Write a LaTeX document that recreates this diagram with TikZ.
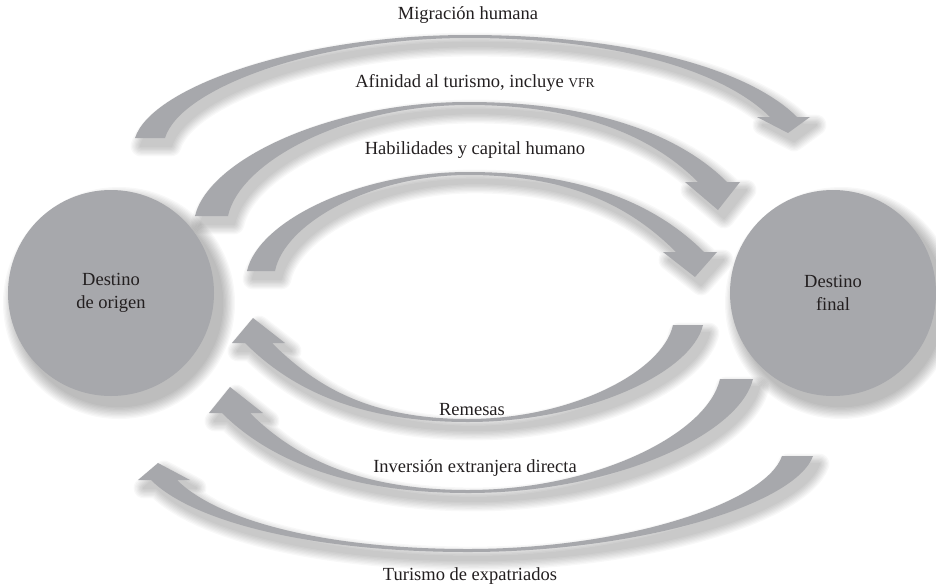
\documentclass[tikz,border=0pt]{standalone}
\usepackage{fontspec}
\setmainfont{Liberation Serif}
\definecolor{arrowgray}{HTML}{A7A8AC}
\definecolor{inkcol}{HTML}{231F20}
\tikzset{
  arrowfill/.style={fill=arrowgray},
  shadowlayer/.style={fill=black, draw=black, line join=round},
  place/.style={circle, fill=arrowgray, minimum size=206pt, inner sep=0pt, align=center, text=inkcol,
    font=\fontsize{18.5}{23}\selectfont},
  lbl/.style={text=inkcol, font=\fontsize{18.5}{22}\selectfont, inner sep=0pt}
}
% soft shadow: #1 shift x, #2 shift y, #3 number of layers, #4 path
\newcommand\softshadow[4]{%
 \foreach \k in {1,...,#3}{%
  \begin{scope}[transparency group, opacity=0.028, shift={(#1,#2)}]
   \path[shadowlayer, line width={\k*2.6pt}] #4;
  \end{scope}}}
\newcommand\shadowfill[1]{\softshadow{6}{8}{8}{#1}\fill[arrowfill] #1;}
% #1 tail outer x, #2 tail inner x, #3 tail y, #4 top y, #5 head base y,
% #6 barb left x, #7 barb right x, #8 tip x, #9 tip y
\newcommand\toparrow[9]{%
 \pgfmathsetmacro\aSL{#6+13}\pgfmathsetmacro\aSR{#7-13}%
 \pgfmathsetmacro\oax{#1+0.05*(468-#1)}\pgfmathsetmacro\oay{#3-0.5*(#3-#4)}%
 \pgfmathsetmacro\obx{#1+0.5*(468-#1)}%
 \pgfmathsetmacro\ocx{468+0.5*(\aSR-468)}%
 \pgfmathsetmacro\odx{\aSR-0.57*(#5-#4)}\pgfmathsetmacro\ody{#5-0.57*(#5-#4)}%
 \pgfmathsetmacro\iax{#2+0.05*(468-#2)}\pgfmathsetmacro\iay{#3-0.5*(#3-#4-3)}%
 \pgfmathsetmacro\ibx{#2+0.5*(468-#2)}%
 \pgfmathsetmacro\icx{468+0.5*(\aSL-468)}%
 \pgfmathsetmacro\idx{\aSL-0.55*(#5-#4)}\pgfmathsetmacro\idy{#5-0.55*(#5-#4)}%
 \pgfmathsetmacro\itop{#4+3}%
 \shadowfill{(#1,#3) .. controls (\oax,\oay) and (\obx,#4) .. (468,#4)
   .. controls (\ocx,#4) and (\odx,\ody) .. (\aSR,#5) -- (#7,#5) -- (#8,#9) -- (#6,#5) -- (\aSL,#5)
   .. controls (\idx,\idy) and (\icx,\itop) .. (468,\itop)
   .. controls (\ibx,\itop) and (\iax,\iay) .. (#2,#3) -- cycle}}
% #1 tail outer x (right), #2 tail inner x, #3 tail y, #4 bottom y, #5 head base y,
% #6 barb left x, #7 barb right x, #8 tip x, #9 tip y
\newcommand\botarrow[9]{%
 \pgfmathsetmacro\aSL{#6+13}\pgfmathsetmacro\aSR{#7-13}%
 \pgfmathsetmacro\oax{#1-0.05*(#1-468)}\pgfmathsetmacro\oay{#3+0.5*(#4-#3)}%
 \pgfmathsetmacro\obx{#1-0.5*(#1-468)}%
 \pgfmathsetmacro\ocx{468-0.5*(468-\aSL)}%
 \pgfmathsetmacro\odx{\aSL+0.57*(#4-#5)}\pgfmathsetmacro\ody{#5+0.57*(#4-#5)}%
 \pgfmathsetmacro\iax{#2-0.05*(#2-468)}\pgfmathsetmacro\iay{#3+0.5*(#4-3-#3)}%
 \pgfmathsetmacro\ibx{#2-0.5*(#2-468)}%
 \pgfmathsetmacro\icx{468-0.5*(468-\aSR)}%
 \pgfmathsetmacro\idx{\aSR+0.55*(#4-#5)}\pgfmathsetmacro\idy{#5+0.55*(#4-#5)}%
 \pgfmathsetmacro\ibot{#4-3}%
 \shadowfill{(#1,#3) .. controls (\oax,\oay) and (\obx,#4) .. (468,#4)
   .. controls (\ocx,#4) and (\odx,\ody) .. (\aSL,#5) -- (#6,#5) -- (#8,#9) -- (#7,#5) -- (\aSR,#5)
   .. controls (\idx,\idy) and (\icx,\ibot) .. (468,\ibot)
   .. controls (\ibx,\ibot) and (\iax,\iay) .. (#2,#3) -- cycle}}
\begin{document}
\begin{tikzpicture}[x=1pt,y=-1pt]
\useasboundingbox (0,0) rectangle (936,587);
\fill[white] (0,0) rectangle (936,587);
% arrows from origin to destination
\toparrow{135}{165}{138}{35}{117}{757}{810}{788}{133}
\toparrow{195}{228}{216}{102}{182}{685}{740}{718}{210}
\toparrow{247}{275}{271}{172}{252}{663}{717}{695}{277}
% arrows from destination back to origin
\botarrow{703}{673}{325}{422}{343}{232}{285}{253}{318}
\botarrow{753}{720}{379}{493}{413}{209}{263}{230}{387}
\botarrow{813}{782}{456}{552}{480}{138}{190}{158}{463}
% places
\softshadow{8}{10}{10}{(111,293) circle[radius=103]}
\softshadow{8}{10}{10}{(833,293) circle[radius=103]}
\node[place] (origen) at (111,293) {Destino\\de origen};
\node[place] (final) at (833,293) {Destino\\final};
% labels
\node[lbl] (lmig) at (468,15) {Migración humana};
\node[lbl] (lafi) at (475,83) {Afinidad al turismo, incluye {\fontsize{13.5}{16}\selectfont VFR}};
\node[lbl] (lhab) at (475,150) {Habilidades y capital humano};
\node[lbl] (lrem) at (472,410) {Remesas};
\node[lbl] (linv) at (475,468) {Inversión extranjera directa};
\node[lbl] (ltur) at (470,576) {Turismo de expatriados};
\end{tikzpicture}
\end{document}
